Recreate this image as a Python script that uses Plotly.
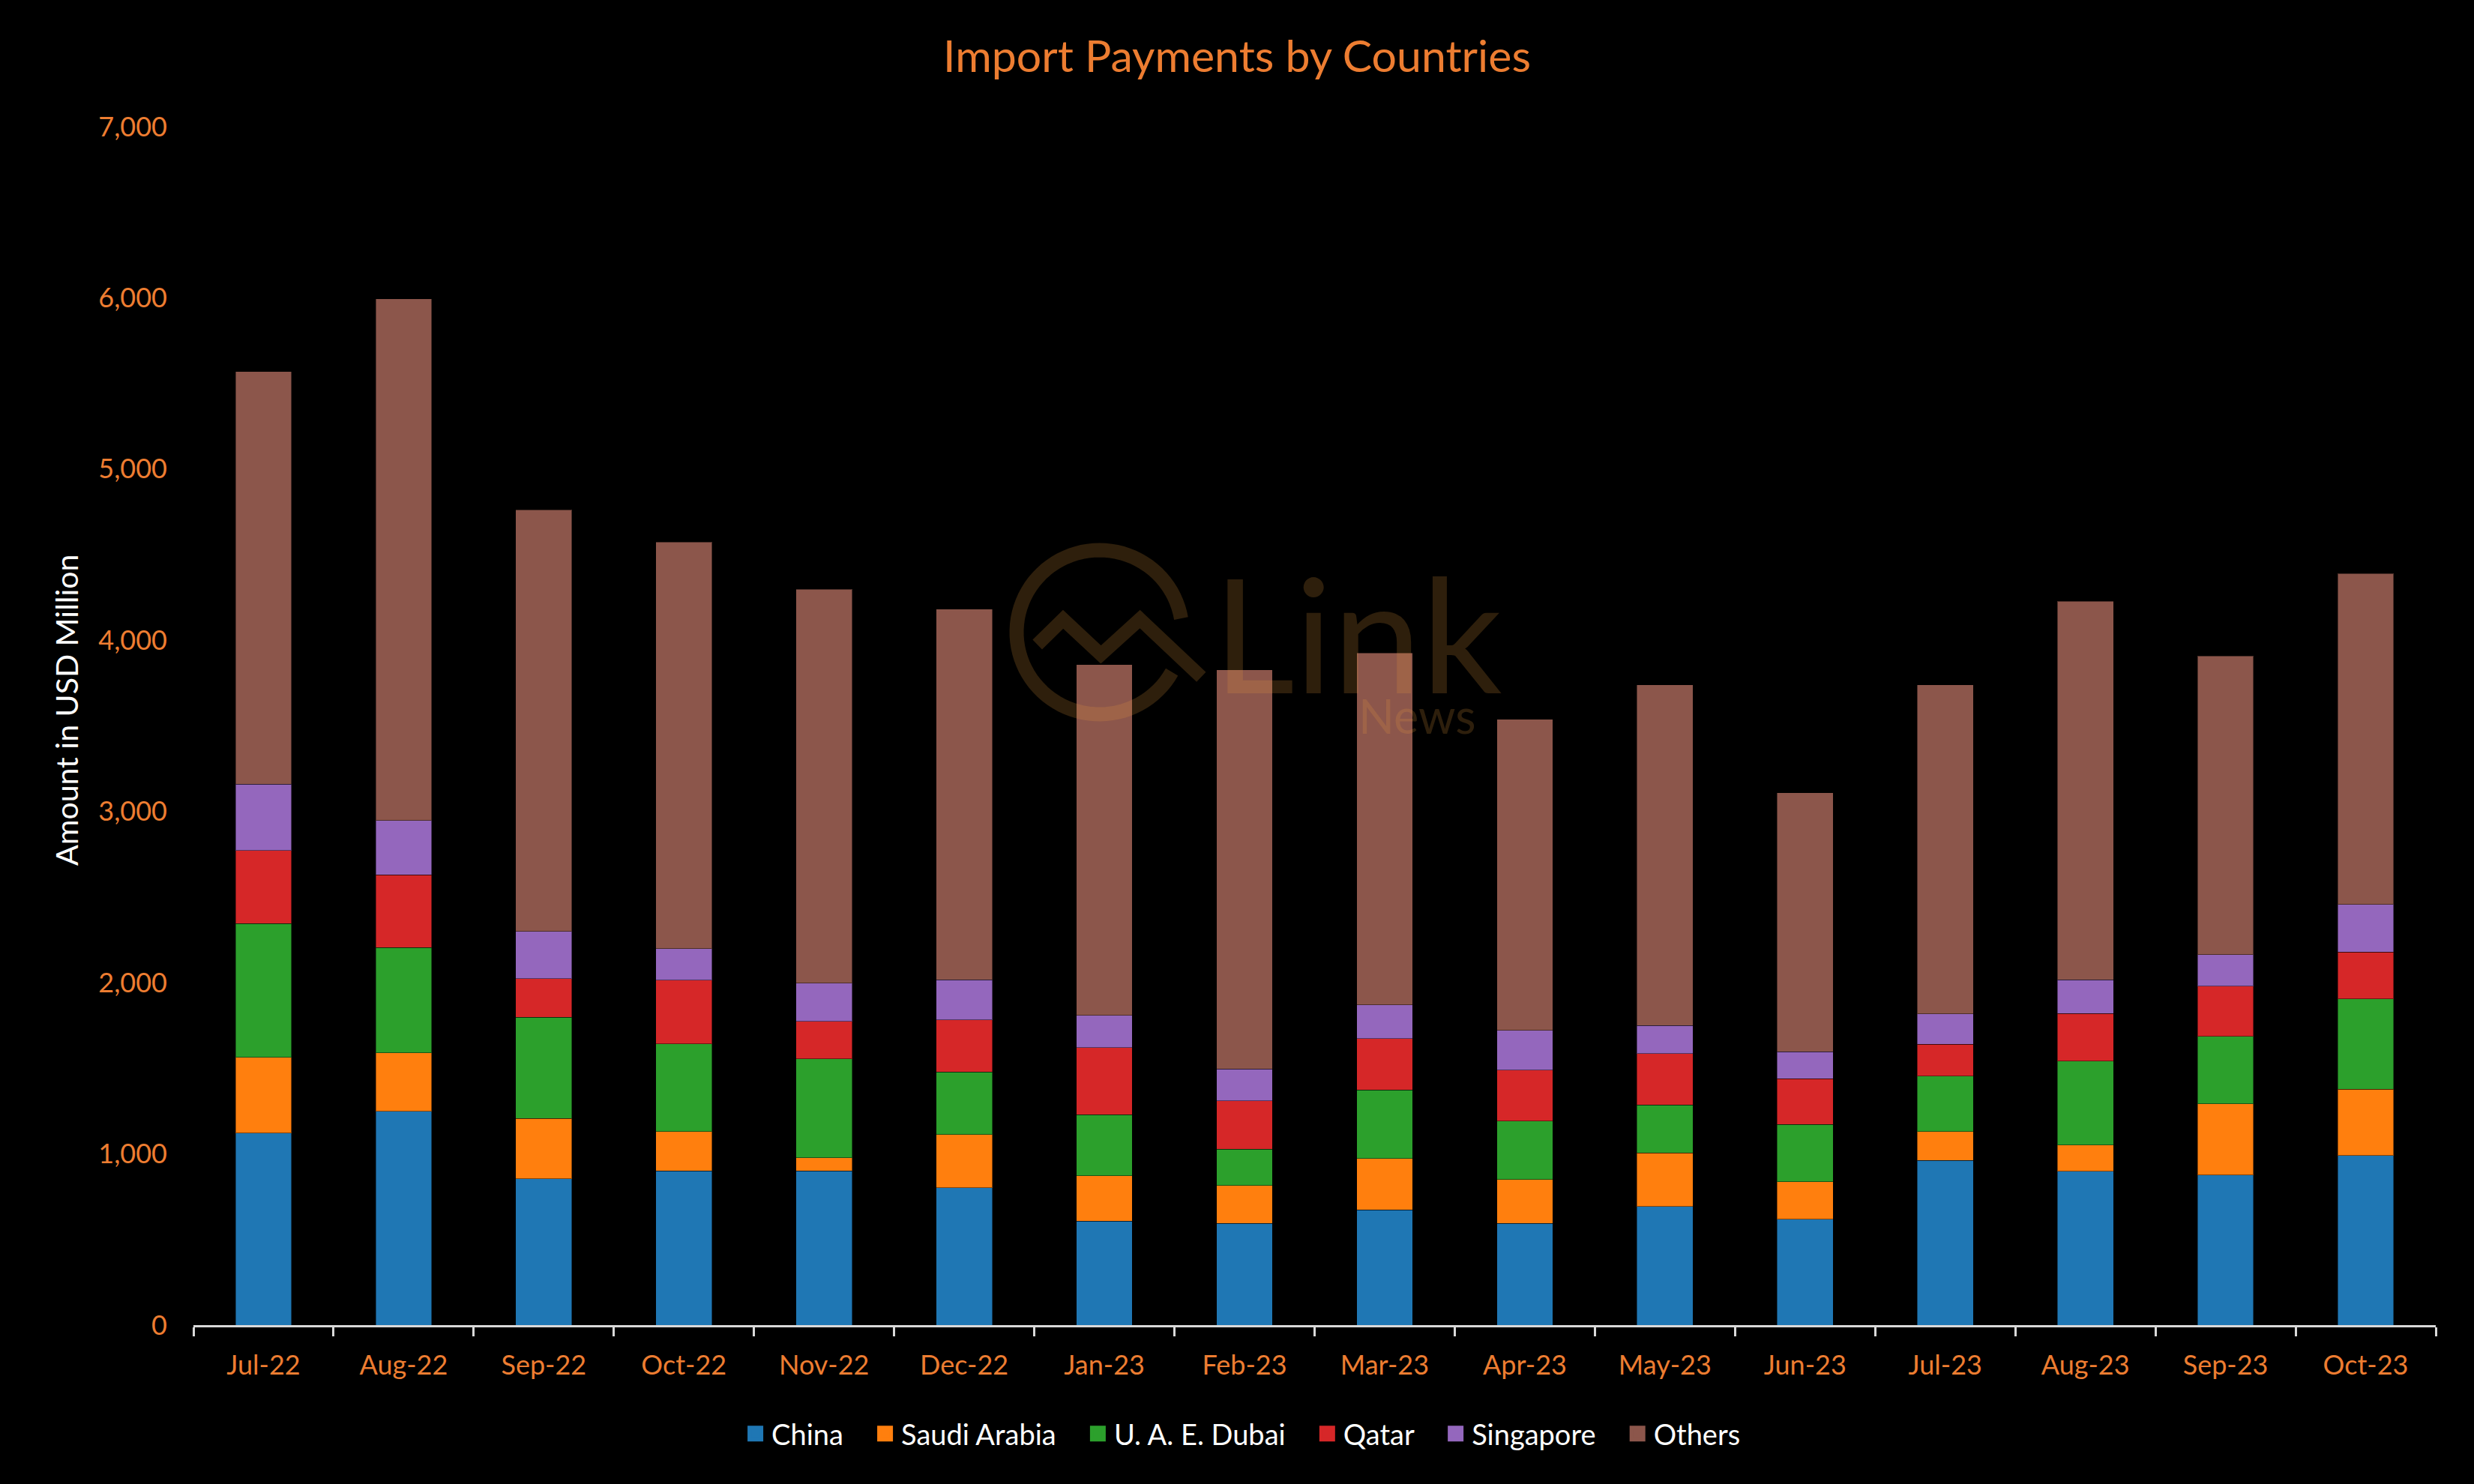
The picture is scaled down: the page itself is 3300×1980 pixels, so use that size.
import math
import plotly.graph_objects as go

months = ["Jul-22", "Aug-22", "Sep-22", "Oct-22", "Nov-22", "Dec-22", "Jan-23", "Feb-23",
          "Mar-23", "Apr-23", "May-23", "Jun-23", "Jul-23", "Aug-23", "Sep-23", "Oct-23"]

china = [1122, 1248, 854, 901, 901, 802, 608, 594, 673, 594, 693, 619, 961, 898, 876, 991]
saudi_arabia = [441, 343, 353, 230, 76, 312, 265, 222, 299, 257, 312, 219, 170, 153, 416, 386]
uae_dubai = [783, 615, 592, 512, 578, 364, 356, 211, 402, 340, 282, 334, 323, 490, 394, 528]
qatar = [427, 425, 224, 372, 219, 304, 392, 284, 299, 298, 298, 268, 186, 279, 293, 274]
singapore = [386, 317, 276, 183, 224, 236, 189, 186, 197, 233, 164, 156, 178, 198, 184, 279]
others = [2410, 3046, 2462, 2375, 2299, 2164, 2048, 2330, 2055, 1817, 1991, 1514, 1922, 2209, 1745, 1931]

series_names = ["China", "Saudi Arabia", "U. A. E. Dubai", "Qatar", "Singapore", "Others"]
series_values = [china, saudi_arabia, uae_dubai, qatar, singapore, others]
series_colors = ["#1F77B4", "#FF7F0E", "#2CA02C", "#D62728", "#9467BD", "#8C564B"]

y_tick_vals = [0, 1000, 2000, 3000, 4000, 5000, 6000, 7000]
y_tick_text = ["0", "1,000", "2,000", "3,000", "4,000", "5,000", "6,000", "7,000"]

ORANGE = "#ED7D31"
FONT = "Lato"
W, H = 3300, 1980
ML, MR, MT, MB = 258, 51, 169, 212
PW, PH = W - ML - MR, H - MT - MB


def px(x):
    return (x - ML) / PW


def py(y):
    return (H - MB - y) / PH


fig = go.Figure()
for name, vals, col in zip(series_names, series_values, series_colors):
    fig.add_trace(go.Bar(
        x=months, y=vals, name=name, showlegend=False,
        marker=dict(color=col, line=dict(color="rgba(0,0,0,0.45)", width=1)),
    ))
# legend entries with larger square glyphs
PAD = "\u00a0\u00a0\u00a0"
for i, (name, col) in enumerate(zip(series_names, series_colors)):
    fig.add_trace(go.Scatter(
        x=[None], y=[None], mode="markers",
        name=name + (PAD if i < len(series_names) - 1 else ""),
        marker=dict(symbol="square", size=16, color=col, line=dict(color=col, width=6)),
    ))

# watermark logo (semi-transparent, drawn above the bars)
wm = "rgba(230,155,60,0.2)"
cx, cy, rx, ry = 1466.5, 843.5, 110.5, 109.5
pts = []
a0, a1 = 29.0, 350.3
n = 80
for k in range(n + 1):
    a = math.radians(a0 + (a1 - a0) * k / n)
    pts.append((px(cx + rx * math.cos(a)), py(cy + ry * math.sin(a))))
arc_path = "M" + " L".join(f"{x:.5f},{y:.5f}" for x, y in pts)
fig.add_shape(type="path", path=arc_path, xref="paper", yref="paper", layer="above",
              line=dict(color=wm, width=19))
zig = [(1383.7, 860), (1418.1, 826.3), (1468.4, 873.3), (1520.5, 826), (1602.3, 903.3)]
zig_path = "M" + " L".join(f"{px(x):.5f},{py(y):.5f}" for x, y in zig)
fig.add_shape(type="path", path=zig_path, xref="paper", yref="paper", layer="above",
              line=dict(color=wm, width=18))
fig.add_annotation(text="Link", xref="paper", yref="paper",
                   x=px(1811), y=py(843), xanchor="center", yanchor="middle", showarrow=False,
                   font=dict(family=FONT, size=212, color=wm))
fig.add_annotation(text="News", xref="paper", yref="paper",
                   x=px(1890), y=py(954), xanchor="center", yanchor="middle", showarrow=False,
                   font=dict(family=FONT, size=63, color=wm))

# y-axis title
fig.add_annotation(text="Amount in USD Million", xref="paper", yref="paper",
                   x=px(88), y=py(947), xanchor="center", yanchor="middle", showarrow=False,
                   textangle=-90, font=dict(family=FONT, size=41, color="#FFFFFF"))

fig.update_layout(
    width=W, height=H,
    paper_bgcolor="#000000", plot_bgcolor="#000000",
    barmode="stack", bargap=0.6,
    margin=dict(l=ML, r=MR, t=MT, b=MB, autoexpand=False),
    font=dict(family=FONT, color=ORANGE, size=36),
    title=dict(text="Import Payments by Countries", x=0.5, xref="container", xanchor="center",
               y=1 - 75 / H, yref="container", yanchor="middle",
               font=dict(family=FONT, size=59, color=ORANGE)),
    showlegend=True,
    legend=dict(orientation="h", traceorder="normal", x=0.502, xref="container", xanchor="center",
                y=(H - 1913) / H, yref="container", yanchor="middle",
                font=dict(family=FONT, size=38, color="#FFFFFF"), itemwidth=33,
                bgcolor="rgba(0,0,0,0)", itemclick=False, itemdoubleclick=False),
    xaxis=dict(type="category", categoryorder="array", categoryarray=months,
               showgrid=False, zeroline=False,
               showline=True, linecolor="#D9D9D9", linewidth=3,
               ticks="outside", tickson="boundaries", ticklen=12, tickwidth=3, tickcolor="#D9D9D9",
               tickfont=dict(family=FONT, size=36, color=ORANGE), ticklabelstandoff=20,
               automargin=False),
    yaxis=dict(range=[0, 7000], tickvals=y_tick_vals, ticktext=y_tick_text,
               showgrid=False, zeroline=False, showline=False, ticks="",
               tickfont=dict(family=FONT, size=36, color=ORANGE), ticklabelstandoff=34,
               automargin=False),
)

fig.write_html("out.html", config={"displayModeBar": False},
               post_script="document.body.style.margin='0';document.body.style.background='#000';")
